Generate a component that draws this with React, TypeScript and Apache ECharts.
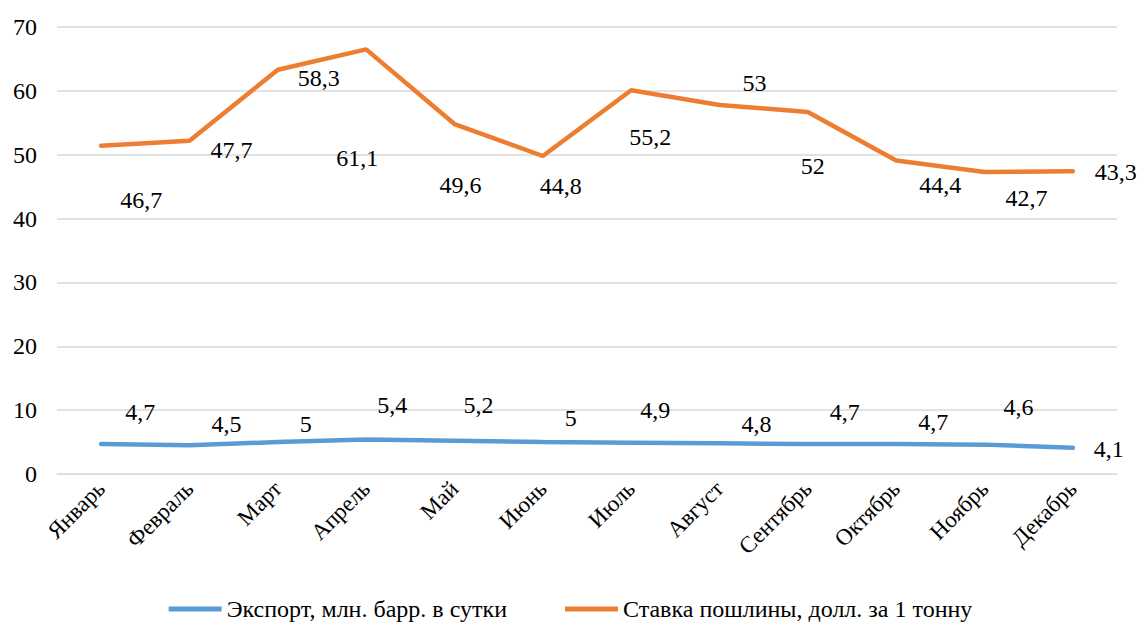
import React, { useEffect, useRef } from "react";
import * as echarts from "echarts";

const months = ["Январь", "Февраль", "Март", "Апрель", "Май", "Июнь", "Июль", "Август", "Сентябрь", "Октябрь", "Ноябрь", "Декабрь"];
const exportValues = [4.7, 4.5, 5, 5.4, 5.2, 5, 4.9, 4.8, 4.7, 4.7, 4.6, 4.1];
const dutyValues = [46.7, 47.7, 58.3, 61.1, 49.6, 44.8, 55.2, 53, 52, 44.4, 42.7, 43.3];
const seriesNames = ["Экспорт, млн. барр. в сутки", "Ставка пошлины, долл. за 1 тонну"];

// label placement offsets (styling only)
const exportLabelOffsets = [[39, -32], [37, -21], [28, -18], [26, -35], [24, -36], [28, -24], [24, -33], [37, -19], [37, -32], [37, -22], [34, -38], [36, 1]];
const dutyLabelOffsets = [[40, 54], [42, 9], [41, 8], [-9, 109], [6, 61], [18, 30], [19, 47], [35, -22], [5, 54], [44, 25], [42, 26], [43, 1]];

const fmt = (v: number) => String(v).replace(".", ",");
const FONT = "Times New Roman";

export default function App() {
  const ref = useRef<HTMLDivElement>(null);
  useEffect(() => {
    const chart = echarts.init(ref.current!, null, { renderer: "svg" });
    const mk = (vals: number[], offs: number[][]) =>
      vals.map((v, i) => ({ value: v, label: { offset: offs[i] } }));
    const lbl = {
      show: true,
      position: "inside",
      fontSize: 24,
      color: "#000",
      fontFamily: FONT,
      formatter: (p: any) => fmt(p.value),
    };
    chart.setOption({
      animation: false,
      textStyle: { fontFamily: FONT },
      grid: { left: 57, right: 24, top: 27, bottom: 154, containLabel: false },
      legend: {
        bottom: 2,
        left: "center",
        icon: "rect",
        itemWidth: 53,
        itemHeight: 5,
        itemGap: 58,
        textStyle: { fontFamily: FONT, fontSize: 24, color: "#000" },
        data: seriesNames,
      },
      xAxis: {
        type: "category",
        data: months,
        axisTick: { show: false },
        axisLine: { lineStyle: { color: "#d9d9d9", width: 1 } },
        axisLabel: { rotate: 45, fontSize: 23, color: "#000", fontFamily: FONT, margin: 11, interval: 0 },
      },
      yAxis: {
        type: "value",
        min: 0,
        max: 70,
        interval: 10,
        axisLabel: { fontSize: 24, color: "#000", fontFamily: FONT, margin: 20 },
        splitLine: { lineStyle: { color: "#d9d9d9", width: 1.5 } },
      },
      series: [
        {
          name: seriesNames[0],
          type: "line",
          stack: "total",
          data: mk(exportValues, exportLabelOffsets),
          symbol: "circle",
          symbolSize: 1,
          color: "#5B9BD5",
          lineStyle: { width: 4.5, color: "#5B9BD5", cap: "round" },
          label: lbl,
        },
        {
          name: seriesNames[1],
          type: "line",
          stack: "total",
          data: mk(dutyValues, dutyLabelOffsets),
          symbol: "circle",
          symbolSize: 1,
          color: "#ED7D31",
          lineStyle: { width: 4.5, color: "#ED7D31", cap: "round" },
          label: lbl,
        },
      ],
    });
    return () => chart.dispose();
  }, []);
  return <div ref={ref} style={{ width: 1141, height: 628, position: "absolute", left: 0, top: 0 }} />;
}
